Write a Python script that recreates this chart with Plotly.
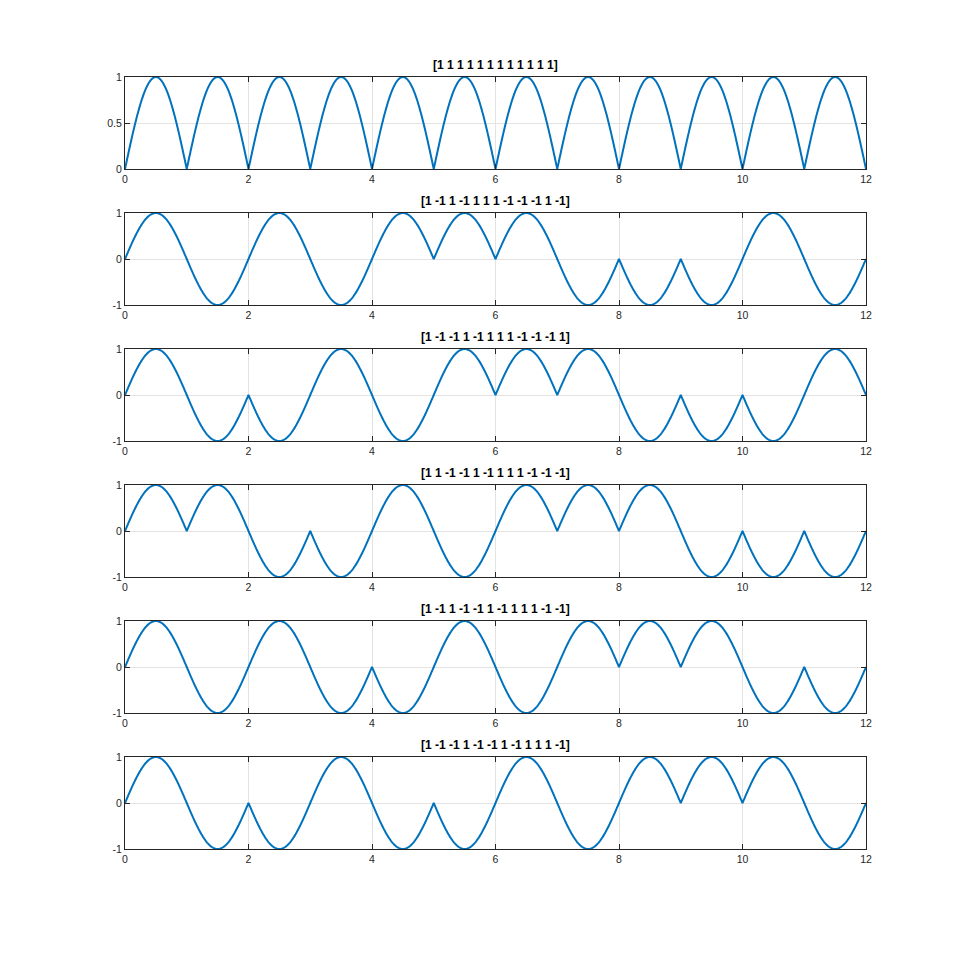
import numpy as np
import plotly.graph_objects as go

codes = [
    [1, 1, 1, 1, 1, 1, 1, 1, 1, 1, 1, 1],
    [1, -1, 1, -1, 1, 1, 1, -1, -1, -1, 1, -1],
    [1, -1, -1, 1, -1, 1, 1, 1, -1, -1, -1, 1],
    [1, 1, -1, -1, 1, -1, 1, 1, 1, -1, -1, -1],
    [1, -1, 1, -1, -1, 1, -1, 1, 1, 1, -1, -1],
    [1, -1, -1, 1, -1, -1, 1, -1, 1, 1, 1, -1],
]
titles = ["[" + " ".join(str(c) for c in code) + "]" for code in codes]
x_ticks = [0, 2, 4, 6, 8, 10, 12]

W, H = 958, 954
left, right = 125, 866
tops = [77, 213, 349, 485, 621, 757]
ph = 92

fig = go.Figure()
blue = "#0072BD"
axcol = "#262626"
gridcol = "#e3e3e3"

for i, code in enumerate(codes):
    xs, ys = [], []
    for k, c in enumerate(code):
        t = np.linspace(k, k + 1, 80)
        xs.extend(t.tolist())
        ys.extend((c * np.abs(np.sin(np.pi * t))).tolist())
    n = "" if i == 0 else str(i + 1)
    fig.add_trace(go.Scatter(x=xs, y=ys, mode="lines",
                             line=dict(color=blue, width=2, simplify=False),
                             xaxis="x" + n, yaxis="y" + n, showlegend=False, hoverinfo="skip"))
    top = tops[i]
    dom_y = [1 - (top + ph) / H, 1 - top / H]
    if i == 0:
        yr, yt, ytt = [0, 1], [0, 0.5, 1], ["0", "0.5", "1"]
    else:
        yr, yt, ytt = [-1, 1], [-1, 0, 1], ["-1", "0", "1"]
    common = dict(showline=True, linecolor=axcol, linewidth=1, mirror="ticks",
                  ticks="inside", ticklen=5, tickcolor=axcol, showgrid=True,
                  gridcolor=gridcol, gridwidth=1, zeroline=False, automargin=False,
                  tickfont=dict(family="Liberation Sans, Arial", size=10.5, color=axcol))
    fig.layout["xaxis" + n] = dict(domain=[left / W, right / W], range=[0, 12],
                                   tickvals=x_ticks, ticktext=[str(v) for v in x_ticks],
                                   anchor="y" + n, **common)
    fig.layout["yaxis" + n] = dict(domain=dom_y, range=yr, tickvals=yt, ticktext=ytt,
                                   anchor="x" + n, **common)
    fig.add_annotation(text="<b>" + titles[i] + "</b>", x=(left + right) / 2 / W,
                       y=1 - (top - 3) / H, xref="paper", yref="paper",
                       xanchor="center", yanchor="bottom", showarrow=False,
                       font=dict(family="Liberation Sans, Arial", size=12, color="#000000"))

fig.update_layout(width=W, height=H, margin=dict(l=0, r=0, t=0, b=0, pad=0),
                  paper_bgcolor="white", plot_bgcolor="white")
fig.write_html("out.html")
